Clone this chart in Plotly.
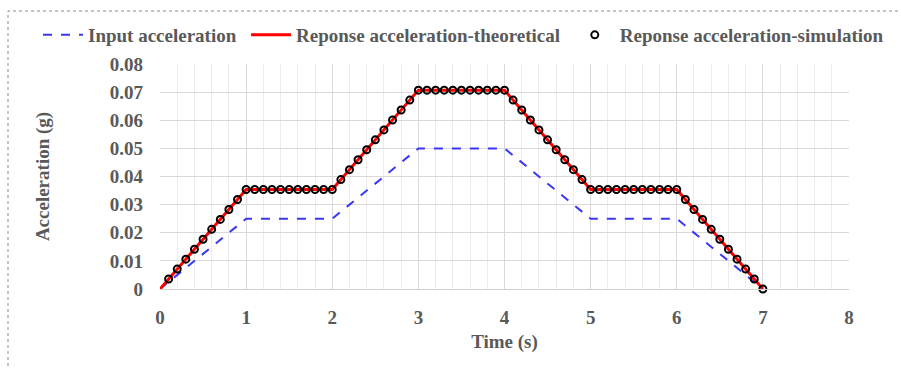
import plotly.graph_objects as go

# Input acceleration (g)
input_time = [0, 1, 2, 3, 4, 5, 6, 7]
input_acc = [0, 0.025, 0.025, 0.05, 0.05, 0.025, 0.025, 0]

# Theoretical response acceleration (g)
theo_time = [0, 1, 2, 3, 4, 5, 6, 7]
theo_acc = [0, 0.03536, 0.03536, 0.07071, 0.07071, 0.03536, 0.03536, 0]

# Simulated response acceleration (g)
sim_time = [0.1, 0.2, 0.3, 0.4, 0.5, 0.6, 0.7, 0.8, 0.9, 1.0,
            1.1, 1.2, 1.3, 1.4, 1.5, 1.6, 1.7, 1.8, 1.9, 2.0,
            2.1, 2.2, 2.3, 2.4, 2.5, 2.6, 2.7, 2.8, 2.9, 3.0,
            3.1, 3.2, 3.3, 3.4, 3.5, 3.6, 3.7, 3.8, 3.9, 4.0,
            4.1, 4.2, 4.3, 4.4, 4.5, 4.6, 4.7, 4.8, 4.9, 5.0,
            5.1, 5.2, 5.3, 5.4, 5.5, 5.6, 5.7, 5.8, 5.9, 6.0,
            6.1, 6.2, 6.3, 6.4, 6.5, 6.6, 6.7, 6.8, 6.9, 7.0]
sim_acc = [0.00354, 0.00707, 0.01061, 0.01414, 0.01768, 0.02121, 0.02475, 0.02828, 0.03182, 0.03536,
           0.03536, 0.03536, 0.03536, 0.03536, 0.03536, 0.03536, 0.03536, 0.03536, 0.03536, 0.03536,
           0.03889, 0.04243, 0.04596, 0.04950, 0.05303, 0.05657, 0.06010, 0.06364, 0.06718, 0.07071,
           0.07071, 0.07071, 0.07071, 0.07071, 0.07071, 0.07071, 0.07071, 0.07071, 0.07071, 0.07071,
           0.06718, 0.06364, 0.06010, 0.05657, 0.05303, 0.04950, 0.04596, 0.04243, 0.03889, 0.03536,
           0.03536, 0.03536, 0.03536, 0.03536, 0.03536, 0.03536, 0.03536, 0.03536, 0.03536, 0.03536,
           0.03182, 0.02828, 0.02475, 0.02121, 0.01768, 0.01414, 0.01061, 0.00707, 0.00354, 0.0]

x_ticks = [0, 1, 2, 3, 4, 5, 6, 7, 8]
y_ticks = [0, 0.01, 0.02, 0.03, 0.04, 0.05, 0.06, 0.07, 0.08]
y_tick_text = ["0", "0.01", "0.02", "0.03", "0.04", "0.05", "0.06", "0.07", "0.08"]

FONT = "Liberation Serif"
GREY = "#595959"
FS = 19
PAD = "\u00a0"

fig = go.Figure()
fig.add_trace(go.Scatter(
    x=input_time, y=input_acc, mode="lines", name="Input acceleration" + PAD,
    line=dict(color="#3a36f5", width=2, dash="dash"), cliponaxis=False))
fig.add_trace(go.Scatter(
    x=theo_time, y=theo_acc, mode="lines", name="Reponse acceleration-theoretical" + PAD,
    line=dict(color="#ff0000", width=3), cliponaxis=False))
fig.add_trace(go.Scatter(
    x=sim_time, y=sim_acc, mode="markers", name="Reponse acceleration-simulation",
    marker=dict(symbol="circle-open", size=7, color="#000000", line=dict(width=2, color="#000000")),
    cliponaxis=False))

L, R, T, B = 160, 52, 64, 80
W, H = 901, 369
pw, ph = W - L - R, H - T - B

fig.add_shape(type="rect", xref="paper", yref="paper",
              x0=(8 - L) / pw, x1=(W + 20 - L) / pw,
              y0=-(B + 20) / ph, y1=(H - B - 11) / ph,
              line=dict(color="#8a8a8a", width=1, dash="dot"), layer="below")

fig.update_layout(
    width=W, height=H,
    margin=dict(l=L, r=R, t=T, b=B),
    paper_bgcolor="white", plot_bgcolor="white",
    font=dict(family=FONT, size=FS, color=GREY),
    showlegend=True,
    legend=dict(orientation="h", x=(38 - L) / pw, xanchor="left",
                y=(H - B - 35) / ph, yanchor="middle",
                font=dict(family=FONT, size=FS, color=GREY, weight="bold"),
                itemwidth=40, tracegroupgap=0, bgcolor="rgba(0,0,0,0)"),
    xaxis=dict(range=[0, 8], tickvals=x_ticks, ticktext=[str(v) for v in x_ticks],
               showgrid=True, gridcolor="#d9d9d9", gridwidth=1,
               minor=dict(dtick=0.2, showgrid=True, gridcolor="#ececec", gridwidth=1),
               zeroline=False, showline=True, linecolor="#cfcfcf", linewidth=1,
               ticks="", ticklabelstandoff=11,
               tickfont=dict(family=FONT, size=FS, color=GREY, weight="bold"),
               title=dict(text="Time (s)", standoff=7,
                          font=dict(family=FONT, size=FS, color=GREY, weight="bold"))),
    yaxis=dict(range=[0, 0.08], tickvals=y_ticks, ticktext=y_tick_text,
               showgrid=True, gridcolor="#d9d9d9", gridwidth=1,
               zeroline=False, showline=False,
               ticks="", ticklabelstandoff=16,
               tickfont=dict(family=FONT, size=FS, color=GREY, weight="bold"),
               title=dict(text="Acceleration (g)", standoff=55,
                          font=dict(family=FONT, size=FS, color=GREY, weight="bold"))),
)

fig.write_html("out.html")
